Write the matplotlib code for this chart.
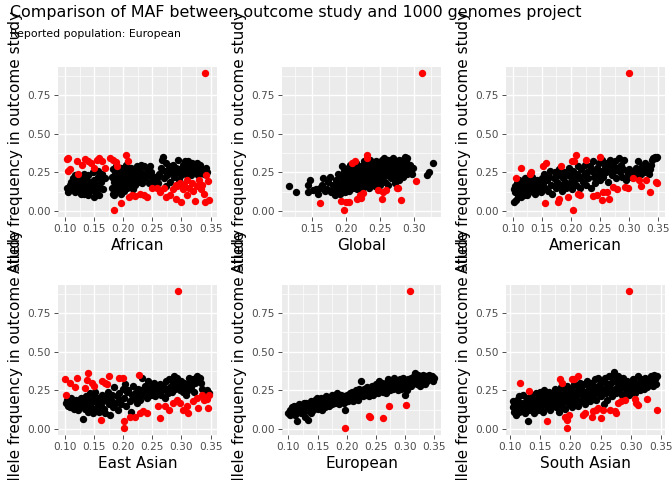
import matplotlib
matplotlib.use("Agg")
import matplotlib.pyplot as plt
from matplotlib.ticker import FixedLocator, FormatStrFormatter

plt.rcParams['font.family'] = ['DejaVu Sans']

title = "Comparison of MAF between outcome study and 1000 genomes project"
subtitle = "Reported population: European"
ylabel = "Allele frequency in outcome study"
panels = ["African", "Global", "American", "East Asian", "European", "South Asian"]

african_black = [
    (0.104,0.15),(0.106,0.12),(0.108,0.17),(0.110,0.19),(0.112,0.14),(0.114,0.21),(0.116,0.16),(0.118,0.12),
    (0.120,0.18),(0.122,0.20),(0.124,0.13),(0.126,0.22),(0.128,0.16),(0.130,0.19),(0.132,0.11),(0.134,0.14),
    (0.136,0.21),(0.138,0.17),(0.140,0.23),(0.142,0.12),(0.144,0.19),(0.146,0.15),(0.148,0.25),(0.150,0.20),
    (0.152,0.13),(0.154,0.17),(0.156,0.22),(0.158,0.10),(0.160,0.15),(0.162,0.19),(0.164,0.24),(0.166,0.14),
    (0.168,0.21),(0.117,0.23),(0.127,0.11),(0.139,0.10),(0.149,0.09),(0.157,0.26),(0.133,0.24),(0.121,0.15),
    (0.180,0.15),(0.181,0.22),(0.182,0.27),(0.183,0.11),(0.184,0.19),(0.186,0.24),(0.187,0.13),(0.188,0.29),
    (0.189,0.17),(0.190,0.21),(0.192,0.26),(0.193,0.14),(0.194,0.18),(0.195,0.23),(0.196,0.28),(0.197,0.11),
    (0.198,0.20),(0.199,0.16),(0.200,0.25),(0.201,0.13),(0.202,0.22),(0.204,0.30),(0.205,0.18),(0.206,0.15),
    (0.207,0.27),(0.208,0.21),(0.210,0.24),(0.211,0.17),(0.212,0.19),(0.213,0.28),(0.215,0.22),(0.216,0.14),
    (0.218,0.26),(0.219,0.20),(0.220,0.17),(0.222,0.24),(0.224,0.29),(0.225,0.19),(0.227,0.22),(0.229,0.26),
    (0.230,0.30),(0.232,0.18),(0.234,0.24),(0.236,0.29),(0.238,0.21),(0.240,0.27),(0.242,0.23),(0.244,0.18),
    (0.246,0.29),(0.248,0.25),(0.250,0.21),(0.252,0.19),(0.255,0.22),(0.258,0.21),(0.185,0.10),
    (0.260,0.18),(0.262,0.24),(0.264,0.28),(0.266,0.33),(0.268,0.35),(0.270,0.21),(0.272,0.26),(0.274,0.31),
    (0.276,0.23),(0.278,0.29),(0.280,0.19),(0.282,0.25),(0.284,0.27),(0.286,0.30),(0.288,0.22),(0.290,0.28),
    (0.292,0.25),(0.294,0.33),(0.296,0.20),(0.298,0.27),(0.300,0.23),(0.302,0.30),(0.304,0.26),(0.306,0.32),
    (0.308,0.24),(0.310,0.29),(0.312,0.32),(0.314,0.27),(0.316,0.23),(0.318,0.31),(0.320,0.25),(0.322,0.29),
    (0.324,0.26),(0.326,0.31),(0.328,0.23),(0.330,0.28),(0.332,0.30),(0.334,0.25),(0.336,0.27),(0.338,0.24),
    (0.340,0.26),(0.342,0.28),(0.344,0.25),(0.273,0.16),(0.297,0.18),
]
african_red = [
    (0.103,0.335),(0.106,0.34),(0.105,0.26),(0.108,0.27),(0.120,0.325),(0.122,0.24),(0.130,0.30),(0.135,0.335),
    (0.140,0.32),(0.145,0.31),(0.150,0.28),(0.155,0.33),(0.158,0.345),(0.163,0.325),(0.168,0.28),(0.178,0.345),
    (0.182,0.33),(0.188,0.315),(0.190,0.29),(0.205,0.36),(0.208,0.32),(0.184,0.006),(0.196,0.05),(0.210,0.09),
    (0.215,0.10),(0.220,0.095),(0.228,0.11),(0.235,0.10),(0.240,0.09),(0.250,0.15),(0.258,0.15),(0.263,0.12),
    (0.270,0.15),(0.273,0.09),(0.280,0.10),(0.285,0.14),(0.290,0.075),(0.293,0.16),(0.297,0.18),(0.300,0.06),
    (0.302,0.14),(0.305,0.17),(0.310,0.10),(0.313,0.15),(0.318,0.18),(0.320,0.13),(0.323,0.065),(0.326,0.16),
    (0.330,0.20),(0.333,0.14),(0.336,0.17),(0.340,0.055),(0.342,0.23),(0.345,0.195),(0.347,0.07),(0.338,0.11),
    (0.310,0.20),(0.290,0.17),(0.341,0.89),
]

global_black = [
    (0.116,0.16),(0.126,0.125),(0.143,0.125),(0.144,0.17),(0.146,0.20),(0.151,0.135),(0.155,0.145),(0.159,0.11),
    (0.162,0.15),(0.164,0.165),(0.166,0.21),(0.168,0.13),(0.171,0.14),(0.173,0.19),(0.176,0.22),(0.178,0.12),
    (0.180,0.17),(0.181,0.145),(0.183,0.10),(0.185,0.20),(0.186,0.16),(0.188,0.24),(0.189,0.13),(0.190,0.11),
    (0.192,0.18),(0.193,0.29),(0.194,0.22),(0.195,0.15),(0.196,0.18),(0.197,0.26),(0.198,0.12),(0.199,0.21),
    (0.200,0.16),(0.201,0.24),(0.202,0.19),(0.203,0.28),(0.204,0.13),(0.205,0.22),(0.206,0.30),(0.207,0.17),
    (0.208,0.25),(0.209,0.20),(0.210,0.15),(0.211,0.27),(0.212,0.22),(0.213,0.18),(0.214,0.31),(0.215,0.24),
    (0.216,0.14),(0.217,0.20),(0.218,0.27),(0.219,0.17),(0.220,0.23),(0.221,0.29),(0.222,0.19),(0.223,0.13),
    (0.224,0.25),(0.225,0.21),(0.226,0.32),(0.227,0.16),(0.228,0.28),(0.229,0.23),(0.230,0.19),(0.231,0.30),
    (0.232,0.25),(0.233,0.15),(0.234,0.21),(0.235,0.33),(0.236,0.27),(0.237,0.18),(0.238,0.23),(0.239,0.30),
    (0.240,0.20),(0.241,0.26),(0.242,0.16),(0.243,0.32),(0.244,0.22),(0.245,0.28),(0.246,0.19),(0.247,0.25),
    (0.248,0.31),(0.249,0.23),(0.250,0.17),(0.251,0.27),(0.252,0.33),(0.253,0.21),(0.254,0.29),(0.255,0.25),
    (0.256,0.34),(0.257,0.19),(0.258,0.31),(0.259,0.27),(0.260,0.23),(0.261,0.33),(0.262,0.17),(0.263,0.29),
    (0.264,0.25),(0.265,0.31),(0.266,0.21),(0.267,0.28),(0.268,0.34),(0.269,0.24),(0.270,0.30),(0.271,0.18),
    (0.272,0.27),(0.273,0.32),(0.274,0.22),(0.275,0.29),(0.276,0.25),(0.277,0.33),(0.278,0.20),(0.279,0.31),
    (0.280,0.27),(0.281,0.24),(0.282,0.29),(0.283,0.33),(0.284,0.22),(0.285,0.30),(0.286,0.35),(0.287,0.26),
    (0.288,0.32),(0.289,0.24),(0.290,0.34),(0.291,0.29),(0.292,0.27),(0.294,0.30),(0.296,0.24),(0.298,0.28),
    (0.318,0.23),(0.322,0.25),(0.328,0.31),
]
global_red = [
    (0.162,0.05),(0.192,0.067),(0.196,0.006),(0.200,0.055),(0.204,0.055),(0.208,0.31),(0.213,0.325),(0.215,0.075),
    (0.220,0.10),(0.225,0.115),(0.222,0.085),(0.230,0.36),(0.231,0.345),(0.247,0.135),(0.252,0.075),(0.254,0.125),
    (0.258,0.135),(0.274,0.15),(0.276,0.15),(0.281,0.07),(0.303,0.195),(0.311,0.89),
]

american_black = [
    (0.101,0.145),(0.102,0.06),(0.103,0.12),(0.104,0.16),(0.105,0.07),(0.106,0.13),(0.107,0.18),(0.108,0.10),
    (0.109,0.15),(0.110,0.12),(0.111,0.20),(0.112,0.14),(0.113,0.09),(0.114,0.17),(0.115,0.11),(0.116,0.15),
    (0.117,0.19),(0.118,0.13),(0.119,0.10),(0.120,0.16),(0.121,0.21),(0.122,0.12),(0.123,0.18),(0.124,0.14),
    (0.125,0.10),(0.126,0.20),(0.127,0.16),(0.128,0.12),(0.129,0.19),(0.130,0.15),(0.132,0.22),(0.134,0.13),
    (0.136,0.18),(0.138,0.11),(0.140,0.16),(0.142,0.20),(0.144,0.14),(0.146,0.17),(0.148,0.12),(0.150,0.21),
    (0.152,0.18),(0.154,0.24),(0.156,0.15),(0.158,0.20),(0.160,0.13),(0.162,0.22),(0.164,0.26),(0.166,0.17),
    (0.168,0.11),(0.170,0.21),(0.172,0.25),(0.174,0.15),(0.176,0.19),(0.178,0.23),(0.180,0.27),(0.182,0.17),
    (0.184,0.13),(0.186,0.21),(0.188,0.25),(0.190,0.19),(0.192,0.15),(0.194,0.23),(0.196,0.28),(0.198,0.18),
    (0.200,0.22),(0.202,0.14),(0.204,0.26),(0.206,0.20),(0.208,0.17),(0.210,0.24),(0.212,0.29),(0.214,0.21),
    (0.216,0.15),(0.218,0.27),(0.220,0.19),(0.222,0.23),(0.224,0.30),(0.226,0.17),(0.228,0.25),(0.230,0.21),
    (0.232,0.29),(0.234,0.15),(0.236,0.26),(0.238,0.32),(0.240,0.22),(0.242,0.18),(0.244,0.28),(0.246,0.24),
    (0.248,0.31),(0.250,0.20),(0.252,0.26),(0.254,0.33),(0.256,0.22),(0.258,0.29),(0.260,0.25),(0.262,0.31),
    (0.264,0.19),(0.266,0.27),(0.268,0.33),(0.270,0.23),(0.272,0.29),(0.274,0.26),(0.276,0.32),(0.278,0.21),
    (0.280,0.28),(0.282,0.34),(0.284,0.25),(0.286,0.30),(0.288,0.22),(0.290,0.27),(0.292,0.33),(0.294,0.20),
    (0.296,0.26),(0.298,0.24),(0.300,0.27),(0.304,0.22),(0.308,0.25),(0.312,0.28),(0.314,0.23),(0.316,0.32),
    (0.318,0.26),(0.320,0.24),(0.322,0.29),(0.324,0.27),(0.326,0.25),(0.328,0.31),(0.330,0.28),(0.332,0.26),
    (0.334,0.24),(0.336,0.27),(0.338,0.30),(0.340,0.33),(0.342,0.34),(0.344,0.35),(0.346,0.34),(0.348,0.35),
]
american_red = [
    (0.114,0.275),(0.106,0.21),(0.129,0.24),(0.131,0.25),(0.152,0.29),(0.157,0.31),(0.155,0.05),(0.178,0.06),
    (0.180,0.075),(0.195,0.09),(0.183,0.29),(0.203,0.006),(0.201,0.32),(0.205,0.325),(0.208,0.36),(0.215,0.10),
    (0.212,0.11),(0.226,0.33),(0.238,0.095),(0.244,0.105),(0.250,0.35),(0.253,0.07),(0.256,0.12),(0.265,0.08),
    (0.262,0.12),(0.273,0.155),(0.280,0.145),(0.293,0.155),(0.298,0.15),(0.306,0.21),(0.318,0.20),(0.330,0.20),
    (0.321,0.16),(0.336,0.125),(0.347,0.19),(0.349,0.18),(0.300,0.89),
]

eastasian_black = [
    (0.101,0.17),(0.103,0.19),(0.105,0.15),(0.107,0.18),(0.109,0.14),(0.111,0.20),(0.113,0.16),(0.115,0.13),
    (0.117,0.17),(0.119,0.19),(0.121,0.14),(0.123,0.12),(0.125,0.16),(0.127,0.20),(0.129,0.15),(0.131,0.063),
    (0.133,0.18),(0.134,0.13),(0.136,0.21),(0.138,0.16),(0.140,0.11),(0.141,0.19),(0.143,0.23),(0.145,0.14),
    (0.147,0.18),(0.148,0.10),(0.150,0.21),(0.152,0.24),(0.154,0.13),(0.155,0.17),(0.157,0.20),(0.159,0.11),
    (0.161,0.15),(0.163,0.22),(0.165,0.18),(0.167,0.13),(0.169,0.10),(0.171,0.20),(0.173,0.24),(0.175,0.16),
    (0.177,0.09),(0.179,0.19),(0.181,0.22),(0.183,0.14),(0.185,0.27),(0.187,0.17),(0.189,0.21),(0.191,0.12),
    (0.193,0.23),(0.195,0.19),(0.197,0.16),(0.199,0.26),(0.201,0.20),(0.203,0.29),(0.205,0.15),(0.207,0.24),
    (0.209,0.25),(0.211,0.18),(0.213,0.11),(0.215,0.22),(0.217,0.28),(0.219,0.20),(0.221,0.23),(0.223,0.17),
    (0.225,0.26),(0.227,0.21),(0.229,0.19),(0.231,0.25),(0.233,0.33),(0.235,0.22),(0.237,0.28),(0.239,0.24),
    (0.241,0.20),(0.243,0.31),(0.245,0.26),(0.247,0.22),(0.249,0.28),
    (0.251,0.24),(0.253,0.30),(0.255,0.21),(0.257,0.27),(0.259,0.23),(0.261,0.26),(0.263,0.29),(0.265,0.22),
    (0.267,0.25),(0.269,0.28),(0.271,0.20),(0.273,0.31),(0.275,0.26),(0.277,0.23),(0.279,0.32),(0.281,0.27),
    (0.283,0.24),(0.285,0.30),(0.287,0.34),(0.289,0.26),(0.291,0.29),(0.293,0.33),(0.295,0.28),(0.297,0.25),
    (0.299,0.31),(0.301,0.27),(0.303,0.24),(0.305,0.30),(0.307,0.22),(0.309,0.28),(0.311,0.25),(0.313,0.33),
    (0.315,0.31),(0.317,0.27),(0.319,0.32),(0.321,0.24),(0.323,0.30),(0.325,0.33),(0.327,0.34),(0.329,0.31),
    (0.331,0.33),(0.333,0.30),(0.335,0.26),(0.340,0.24),(0.344,0.25),(0.347,0.23),
]
eastasian_red = [
    (0.100,0.32),(0.101,0.222),(0.109,0.30),(0.117,0.27),(0.120,0.33),(0.140,0.36),(0.137,0.315),(0.135,0.265),
    (0.146,0.30),(0.150,0.28),(0.163,0.31),(0.169,0.30),(0.175,0.34),(0.172,0.29),(0.162,0.058),(0.192,0.33),
    (0.200,0.33),(0.201,0.048),(0.202,0.004),(0.212,0.08),(0.220,0.08),(0.227,0.35),(0.229,0.10),(0.234,0.113),
    (0.240,0.10),(0.260,0.15),(0.263,0.07),(0.272,0.146),(0.278,0.124),(0.286,0.167),(0.292,0.19),(0.297,0.167),
    (0.303,0.124),(0.309,0.146),(0.312,0.10),(0.320,0.18),(0.326,0.20),(0.329,0.135),(0.335,0.22),(0.338,0.19),
    (0.343,0.193),(0.346,0.135),(0.347,0.22),(0.294,0.89),
]

european_black = [
    (0.100,0.10),(0.102,0.12),(0.103,0.09),(0.105,0.11),(0.106,0.14),(0.108,0.10),(0.109,0.12),(0.110,0.15),
    (0.112,0.09),(0.113,0.13),(0.114,0.048),(0.115,0.11),(0.117,0.14),(0.118,0.16),(0.120,0.12),(0.121,0.10),
    (0.123,0.15),(0.124,0.13),(0.126,0.17),(0.127,0.11),(0.129,0.08),(0.130,0.14),(0.131,0.17),(0.132,0.12),
    (0.134,0.06),(0.135,0.16),(0.136,0.13),(0.138,0.18),(0.139,0.10),(0.140,0.15),(0.142,0.12),(0.143,0.17),
    (0.145,0.14),(0.146,0.19),(0.148,0.16),(0.149,0.20),(0.150,0.13),(0.152,0.17),(0.153,0.19),(0.155,0.15),
    (0.156,0.20),(0.157,0.12),(0.159,0.18),(0.160,0.16),(0.162,0.19),(0.163,0.14),(0.165,0.21),(0.166,0.17),
    (0.168,0.19),(0.169,0.15),(0.171,0.20),(0.172,0.18),(0.174,0.22),(0.175,0.16),(0.177,0.19),(0.178,0.21),
    (0.180,0.17),(0.181,0.20),(0.183,0.23),(0.184,0.18),(0.186,0.21),(0.187,0.16),(0.189,0.19),(0.190,0.22),
    (0.192,0.18),(0.193,0.20),(0.195,0.17),(0.196,0.21),(0.198,0.12),(0.199,0.19),(0.201,0.22),(0.202,0.18),
    (0.204,0.20),(0.205,0.23),(0.207,0.19),(0.208,0.21),(0.210,0.24),(0.211,0.18),(0.213,0.22),(0.214,0.20),
    (0.216,0.25),(0.217,0.21),(0.219,0.23),(0.220,0.19),(0.222,0.26),(0.223,0.22),(0.225,0.31),(0.226,0.24),
    (0.228,0.21),(0.229,0.26),(0.231,0.23),(0.232,0.25),(0.234,0.22),(0.235,0.27),(0.237,0.24),(0.238,0.21),
    (0.240,0.26),(0.241,0.23),(0.243,0.28),(0.244,0.25),(0.246,0.22),(0.247,0.27),(0.249,0.24),(0.250,0.29),
    (0.252,0.26),(0.253,0.23),(0.255,0.28),(0.256,0.31),(0.258,0.25),(0.259,0.27),(0.261,0.30),(0.262,0.24),
    (0.264,0.28),(0.265,0.26),(0.267,0.30),(0.268,0.23),(0.270,0.27),(0.271,0.32),(0.273,0.29),(0.274,0.25),
    (0.276,0.28),(0.277,0.31),(0.279,0.26),(0.280,0.30),(0.282,0.33),(0.283,0.27),(0.285,0.29),(0.286,0.31),
    (0.288,0.25),(0.289,0.30),(0.291,0.28),(0.292,0.32),(0.294,0.26),(0.295,0.30),(0.297,0.33),(0.298,0.28),
    (0.300,0.31),(0.301,0.22),(0.303,0.25),(0.305,0.29),(0.306,0.32),(0.308,0.30),(0.310,0.33),(0.311,0.28),
    (0.313,0.31),(0.315,0.34),(0.316,0.30),(0.318,0.36),(0.320,0.32),(0.321,0.29),(0.323,0.35),(0.325,0.31),
    (0.326,0.28),(0.328,0.33),(0.330,0.30),(0.331,0.35),(0.333,0.32),(0.335,0.29),(0.336,0.34),(0.338,0.31),
    (0.340,0.33),(0.342,0.35),(0.344,0.32),(0.346,0.34),(0.348,0.31),(0.350,0.33),
]
european_red = [
    (0.197,0.004),(0.239,0.085),(0.240,0.074),(0.262,0.07),(0.273,0.146),(0.302,0.152),(0.309,0.89),
]

southasian_black = [
    (0.105,0.18),(0.106,0.14),(0.107,0.11),(0.108,0.16),(0.110,0.09),(0.111,0.13),(0.112,0.19),(0.114,0.15),
    (0.115,0.11),(0.116,0.21),(0.118,0.14),(0.119,0.17),(0.121,0.12),(0.122,0.22),(0.124,0.15),(0.125,0.10),
    (0.127,0.18),(0.128,0.14),(0.130,0.05),(0.131,0.20),(0.132,0.12),(0.134,0.16),(0.135,0.22),(0.137,0.13),
    (0.138,0.19),(0.140,0.10),(0.141,0.17),(0.143,0.23),(0.144,0.14),(0.146,0.20),(0.147,0.12),(0.149,0.18),
    (0.150,0.24),(0.152,0.15),(0.153,0.21),(0.155,0.11),(0.156,0.25),(0.158,0.17),(0.159,0.20),
    (0.161,0.14),(0.162,0.22),(0.164,0.18),(0.165,0.24),(0.167,0.12),(0.168,0.20),(0.170,0.16),(0.171,0.23),
    (0.173,0.19),(0.174,0.26),(0.176,0.14),(0.177,0.21),(0.179,0.17),(0.180,0.24),(0.182,0.11),(0.183,0.20),
    (0.185,0.27),(0.186,0.15),(0.188,0.22),(0.189,0.18),(0.191,0.25),(0.192,0.13),(0.194,0.21),(0.195,0.28),
    (0.197,0.16),(0.198,0.23),(0.200,0.19),(0.201,0.26),(0.203,0.14),(0.204,0.22),(0.206,0.29),(0.207,0.17),
    (0.209,0.24),(0.210,0.20),(0.212,0.27),(0.213,0.15),(0.215,0.23),(0.216,0.30),(0.218,0.18),(0.219,0.25),
    (0.221,0.21),(0.222,0.29),(0.224,0.16),(0.225,0.24),(0.227,0.31),(0.228,0.20),(0.230,0.27),(0.231,0.23),
    (0.233,0.18),(0.234,0.30),(0.236,0.25),(0.237,0.21),(0.239,0.28),(0.240,0.32),(0.242,0.23),(0.243,0.19),
    (0.245,0.27),(0.246,0.33),(0.248,0.24),(0.249,0.29),
    (0.251,0.21),(0.252,0.31),(0.254,0.26),(0.255,0.16),(0.257,0.33),(0.258,0.23),(0.260,0.29),(0.261,0.19),
    (0.263,0.27),(0.264,0.34),(0.266,0.24),(0.267,0.30),(0.269,0.21),(0.270,0.33),(0.272,0.37),(0.273,0.26),
    (0.275,0.31),(0.276,0.23),(0.278,0.34),(0.279,0.28),(0.281,0.25),(0.282,0.32),(0.284,0.29),(0.285,0.22),
    (0.287,0.33),(0.288,0.27),(0.290,0.30),(0.291,0.24),(0.293,0.31),(0.295,0.27),(0.297,0.22),(0.299,0.29),
    (0.301,0.25),(0.303,0.32),(0.305,0.27),(0.307,0.23),(0.309,0.30),(0.311,0.34),(0.313,0.28),(0.315,0.25),
    (0.317,0.32),(0.319,0.29),(0.321,0.26),(0.323,0.33),(0.325,0.30),(0.327,0.27),(0.329,0.32),(0.331,0.29),
    (0.333,0.34),(0.335,0.31),(0.337,0.28),(0.338,0.35),(0.340,0.32),(0.341,0.29),(0.342,0.34),
]
southasian_red = [
    (0.117,0.295),(0.132,0.245),(0.161,0.054),(0.183,0.32),(0.187,0.30),(0.194,0.059),(0.195,0.004),(0.197,0.09),
    (0.192,0.075),(0.202,0.325),(0.206,0.32),(0.213,0.345),(0.221,0.09),(0.224,0.10),(0.235,0.08),(0.237,0.115),
    (0.242,0.125),(0.246,0.135),(0.251,0.07),(0.254,0.125),(0.265,0.125),(0.273,0.115),(0.275,0.10),(0.279,0.17),
    (0.284,0.18),(0.290,0.19),(0.306,0.195),(0.309,0.17),(0.312,0.155),(0.326,0.195),(0.342,0.12),(0.297,0.89),
]

black_sets = [african_black, global_black, american_black, eastasian_black, european_black, southasian_black]
red_sets = [african_red, global_red, american_red, eastasian_red, european_red, southasian_red]

x_limits = [(0.088, 0.361), (0.1054, 0.3393), (0.088, 0.362), (0.088, 0.361), (0.089, 0.362), (0.094, 0.356)]
x_ticks = [[0.10, 0.15, 0.20, 0.25, 0.30, 0.35], [0.15, 0.20, 0.25, 0.30],
           [0.10, 0.15, 0.20, 0.25, 0.30, 0.35], [0.10, 0.15, 0.20, 0.25, 0.30, 0.35],
           [0.10, 0.15, 0.20, 0.25, 0.30, 0.35], [0.10, 0.15, 0.20, 0.25, 0.30, 0.35]]
y_ticks = [0.00, 0.25, 0.50, 0.75]
y_limits = (-0.0395, 0.932)

W, H = 672, 480
fig = plt.figure(figsize=(W / 100, H / 100), dpi=100)
fig.patch.set_facecolor('white')

col_left = [58, 282, 506]
row_top = [67, 285]
pw, ph = 159, 150

for i, name in enumerate(panels):
    r, c = divmod(i, 3)
    ax = fig.add_axes([col_left[c] / W, 1 - (row_top[r] + ph) / H, pw / W, ph / H])
    ax.set_facecolor('#EBEBEB')
    for s in ax.spines.values():
        s.set_visible(False)
    xt = x_ticks[i]
    xminor = [(a + b) / 2 for a, b in zip(xt[:-1], xt[1:])]
    lo, hi = x_limits[i]
    if xt[0] - 0.025 > lo:
        xminor = [xt[0] - 0.025] + xminor
    if xt[-1] + 0.025 < hi:
        xminor = xminor + [xt[-1] + 0.025]
    ax.xaxis.set_major_locator(FixedLocator(xt))
    ax.xaxis.set_minor_locator(FixedLocator(xminor))
    ax.yaxis.set_major_locator(FixedLocator(y_ticks))
    ax.yaxis.set_minor_locator(FixedLocator([0.125, 0.375, 0.625, 0.875]))
    ax.xaxis.set_major_formatter(FormatStrFormatter('%.2f'))
    ax.yaxis.set_major_formatter(FormatStrFormatter('%.2f'))
    ax.grid(which='major', color='white', linewidth=1.0)
    ax.grid(which='minor', color='white', linewidth=0.5)
    ax.set_axisbelow(True)
    ax.tick_params(which='major', length=2.75, width=0.6, color='#333333',
                   labelsize=7.6, labelcolor='#4D4D4D', pad=2.2)
    ax.tick_params(which='minor', length=0)

    bx, by = zip(*black_sets[i])
    ax.scatter(bx, by, s=28, color='black', linewidths=0, zorder=3)
    rx, ry = zip(*red_sets[i])
    ax.scatter(rx, ry, s=28, color='#FF0000', linewidths=0, zorder=3)

    ax.set_xlim(*x_limits[i])
    ax.set_ylim(*y_limits)
    ax.set_xlabel(name, fontsize=11, labelpad=3)
    ax.set_ylabel(ylabel, fontsize=11, labelpad=3)

fig.text(10 / W, 1 - 17 / H, title, fontsize=11.4, ha='left', va='baseline')
fig.text(10 / W, 1 - 37 / H, subtitle, fontsize=7.8, ha='left', va='baseline')

fig.savefig('out.png', dpi=100, facecolor='white')
